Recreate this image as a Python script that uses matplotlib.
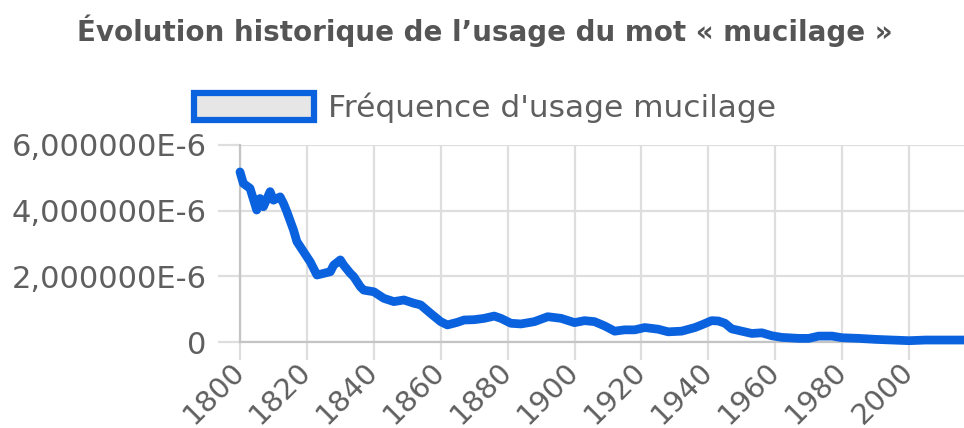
"""
Évolution historique de l'usage du mot « mucilage »
"""
import matplotlib
matplotlib.use('Agg')
import matplotlib.pyplot as plt
from matplotlib.patches import Patch

years = [1800, 1801, 1803, 1805, 1806, 1807, 1809, 1810, 1812, 1813, 1814, 1816, 1817,
         1819, 1821, 1823, 1825, 1827, 1828, 1830, 1831, 1833, 1834, 1836, 1837, 1840,
         1843, 1846, 1849, 1852, 1854, 1857, 1860, 1862, 1865, 1867, 1870, 1873, 1876,
         1878, 1881, 1884, 1888, 1892, 1896, 1900, 1903, 1906, 1909, 1912, 1915, 1918,
         1921, 1925, 1928, 1932, 1936, 1938, 1941, 1943, 1945, 1947, 1950, 1953, 1956,
         1959, 1962, 1967, 1970, 1973, 1977, 1980, 1985, 1990, 1995, 2000, 2005, 2010,
         2015, 2019]
# frequence, en millioniemes
freq = [5.18, 4.83, 4.68, 4.02, 4.37, 4.12, 4.58, 4.32, 4.42, 4.22, 3.97, 3.41, 3.06,
        2.75, 2.44, 2.04, 2.09, 2.14, 2.34, 2.50, 2.34, 2.09, 1.99, 1.68, 1.58, 1.53,
        1.33, 1.23, 1.28, 1.18, 1.13, 0.87, 0.62, 0.52, 0.60, 0.67, 0.68, 0.72, 0.79,
        0.72, 0.57, 0.55, 0.62, 0.77, 0.72, 0.59, 0.65, 0.62, 0.49, 0.33, 0.37, 0.37,
        0.44, 0.39, 0.31, 0.33, 0.44, 0.52, 0.65, 0.64, 0.57, 0.40, 0.33, 0.26, 0.28,
        0.19, 0.14, 0.11, 0.11, 0.18, 0.18, 0.13, 0.11, 0.08, 0.06, 0.04, 0.06, 0.06,
        0.06, 0.06]

x_ticks = [1800, 1820, 1840, 1860, 1880, 1900, 1920, 1940, 1960, 1980, 2000]
y_ticks = [0, 2e-6, 4e-6, 6e-6]
y_labels = ['0', '2,000000E-6', '4,000000E-6', '6,000000E-6']

blue = '#0b62de'
grid = '#dedede'
txt = '#5f5f5f'

plt.rcParams['font.family'] = ['DejaVu Sans']

fig = plt.figure(figsize=(9.64, 4.28), dpi=100)
ax = fig.add_axes([240 / 964, 1 - 342 / 428, 724 / 964, 197 / 428])

ax.plot(years, [v * 1e-6 for v in freq], color=blue, linewidth=6.3, solid_joinstyle='round',
        solid_capstyle='round', clip_on=False, zorder=3)

ax.set_xlim(1800, 1800 + 724 / 3.345)
ax.set_ylim(0, 6e-6)
ax.set_xticks(x_ticks)
ax.set_xticklabels([str(y) for y in x_ticks], rotation=45, ha='right',
                   rotation_mode='anchor', va='center')
ax.set_yticks(y_ticks)
ax.set_yticklabels(y_labels)

ax.grid(True, color=grid, linewidth=1.6)
ax.set_axisbelow(True)
ax.tick_params(axis='x', length=13, width=1.6, color=grid, labelsize=21, labelcolor=txt, pad=5)
ax.tick_params(axis='y', length=16, width=1.6, color=grid, labelsize=22, labelcolor=txt, pad=8)
for s in ['top', 'right']:
    ax.spines[s].set_visible(False)
ax.spines['left'].set_color('#c4c4c4')
ax.spines['bottom'].set_color('#c4c4c4')
ax.spines['left'].set_linewidth(1.6)
ax.spines['bottom'].set_linewidth(1.6)

fig.text(485 / 964, 1 - 31 / 428, "Évolution historique de l\u2019usage du mot « mucilage »",
         ha='center', va='center', fontsize=20, fontweight='bold', color='#555555')

handle = Patch(facecolor='#e6e6e6', edgecolor=blue, linewidth=4.5)
fig.legend([handle], ["Fréquence d'usage mucilage"], loc='center left',
           bbox_to_anchor=(194 / 964, 1 - 108 / 428), frameon=False, fontsize=22.5,
           labelcolor=txt, handlelength=3.85, handleheight=0.95, handletextpad=0.45,
           borderpad=0, borderaxespad=0)

fig.savefig('out.png', dpi=100)
